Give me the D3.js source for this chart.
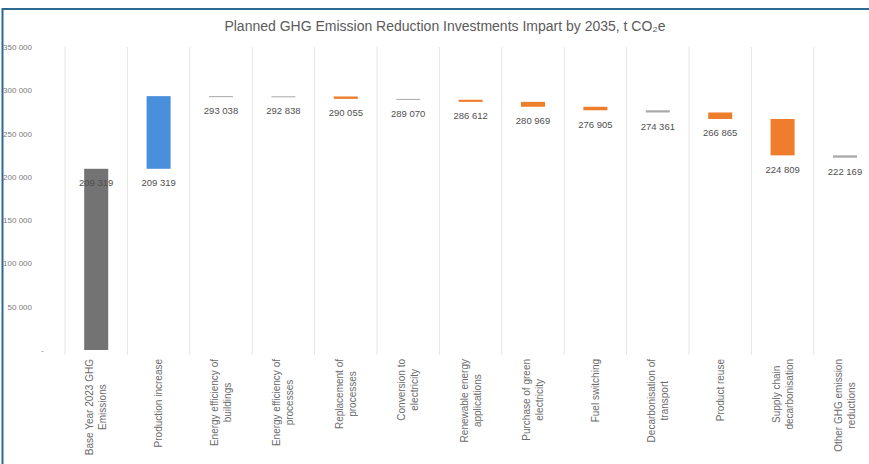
<!DOCTYPE html>
<html>
<head>
<meta charset="utf-8">
<script src="https://cdn.jsdelivr.net/npm/d3@7"></script>
<style>
  html, body { margin: 0; padding: 0; background: #ffffff; }
  svg { display: block; font-family: "Liberation Sans", Arial, sans-serif; }
</style>
</head>
<body>
<svg id="chart" width="869" height="464"></svg>
<script>
// Waterfall steps: category labels (split into lines), running level after each step
const categories = [
  ["Base Year 2023 GHG", "Emissions"],
  ["Production increase"],
  ["Energy efficiency of", "buildings"],
  ["Energy efficiency of", "processes"],
  ["Replacement of", "processes"],
  ["Conversion to", "electricity"],
  ["Renewable energy", "applications"],
  ["Purchase of green", "electricity"],
  ["Fuel switching"],
  ["Decarbonisation of", "transport"],
  ["Product reuse"],
  ["Supply chain", "decarbonisation"],
  ["Other GHG emission", "reductions"]
];
// Level reached after each step (shown as the data label)
const levels = [209319, 209319, 293038, 292838, 290055, 289070, 286612, 280969, 276905, 274361, 266865, 224809, 222169];
// Emissions added by production growth
const productionIncrease = 83919;
// Kind of each step
const stepKinds = ["base", "increase", "minor", "minor", "reduction", "minor", "reduction",
                   "reduction", "reduction", "minor", "reduction", "reduction", "minor"];
const yTicks = [0, 50000, 100000, 150000, 200000, 250000, 300000, 350000];
const title = "Planned GHG Emission Reduction Investments Impart by 2035, t CO\u2082e";

const svg = d3.select("#chart");
const W = 869, H = 464;

const step = 62.4, x0 = 65;
const x = d3.scaleBand()
  .domain(d3.range(categories.length))
  .range([x0, x0 + step * categories.length])
  .paddingInner(0.615)
  .paddingOuter(0.3075);
const y = d3.scaleLinear().domain([0, 350000]).range([350, 47]);

// Segments of the waterfall
const segments = levels.map((lv, i) => {
  if (stepKinds[i] === "base") return { i, lo: 0, hi: lv };
  if (stepKinds[i] === "increase") return { i, lo: lv, hi: lv + productionIncrease };
  const prevTop = i === 2 ? levels[1] + productionIncrease : levels[i - 1];
  return { i, lo: lv, hi: prevTop };
});
const fills = { base: "#737373", increase: "#4a8fdb", reduction: "#ee7d2c", minor: "#a9a9a9" };

// Category separators
svg.append("g").selectAll("line")
  .data(d3.range(categories.length + 1))
  .join("line")
  .attr("x1", d => x0 + d * step).attr("x2", d => x0 + d * step)
  .attr("y1", y(350000)).attr("y2", y(0) + 5)
  .attr("stroke", "#e6e6e6").attr("stroke-width", 1);

// Y axis labels
const fmt = v => v === 0 ? "-" : d3.format(",")(v).replace(/,/g, " ");
const yAxis = svg.append("g")
  .attr("transform", "translate(34,0)")
  .call(d3.axisLeft(y).tickValues(yTicks).tickSize(0).tickPadding(2).tickFormat(fmt));
yAxis.select(".domain").remove();
yAxis.selectAll("text").attr("fill", "#7a7a7a").attr("font-size", "8px")
  .attr("font-family", "Liberation Sans, Arial, sans-serif");
yAxis.selectAll(".tick").filter(d => d === 0).select("text").attr("x", 10);

// Bars
svg.append("g").selectAll("rect")
  .data(segments)
  .join("rect")
  .attr("x", d => x(d.i))
  .attr("width", x.bandwidth())
  .attr("y", d => y(d.hi))
  .attr("height", d => Math.max(1, y(d.lo) - y(d.hi)))
  .attr("fill", d => fills[stepKinds[d.i]]);

// Data labels
svg.append("g").selectAll("text")
  .data(levels)
  .join("text")
  .attr("x", (d, i) => x(i) + x.bandwidth() / 2)
  .attr("y", d => y(d) + 14)
  .attr("dy", "0.35em")
  .attr("text-anchor", "middle")
  .attr("font-size", "9.5px")
  .attr("fill", "#505050")
  .text(d => fmt(d));

// Rotated category labels below the plot
const lineGap = 13;
const catG = svg.append("g");
categories.forEach((lines, i) => {
  const cx = x(i) + x.bandwidth() / 2;
  const g = catG.append("g");
  const texts = lines.map((t, k) => g.append("text")
    .attr("font-size", "10px").attr("fill", "#6a6a6a")
    .attr("text-anchor", "middle").attr("dy", "0.35em")
    .text(t));
  const maxLen = d3.max(texts, t => t.node().getComputedTextLength());
  const cy = 359 + maxLen / 2;
  texts.forEach((t, k) => {
    const lx = cx + (k - (lines.length - 1) / 2) * lineGap;
    t.attr("transform", `translate(${lx},${cy}) rotate(-90)`);
  });
});

// Title
svg.append("text")
  .attr("x", 445).attr("y", 31)
  .attr("text-anchor", "middle")
  .attr("font-size", "14px")
  .attr("fill", "#5a5a5a")
  .text(title);

// Frame
svg.append("line").attr("x1", 2.5).attr("x2", W).attr("y1", 9).attr("y2", 9)
  .attr("stroke", "#2c6a92").attr("stroke-width", 2);
svg.append("line").attr("x1", 2.5).attr("x2", 2.5).attr("y1", 8).attr("y2", H)
  .attr("stroke", "#2c6a92").attr("stroke-width", 2);
</script>
</body>
</html>
